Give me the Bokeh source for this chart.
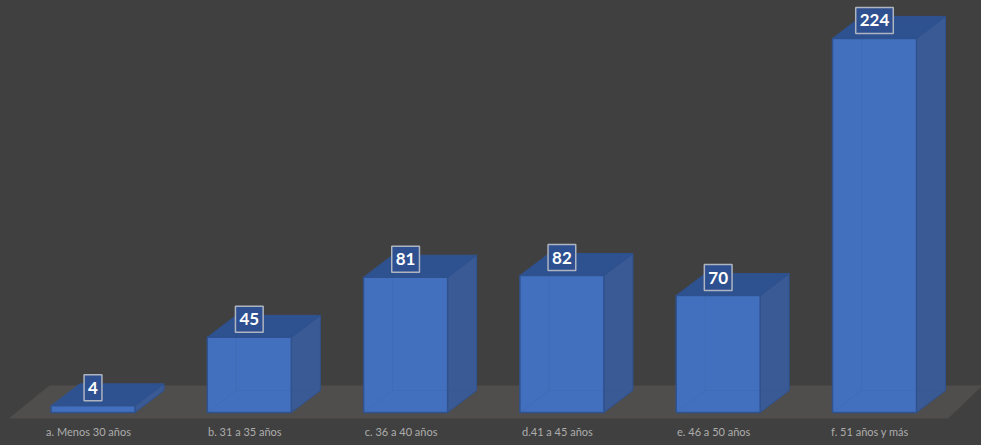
from bokeh.plotting import figure, ColumnDataSource
from bokeh.embed import file_html
from bokeh.resources import INLINE
from bokeh.models import FixedTicker
from bokeh.core.properties import value
import numpy as np

categories = ["a. Menos 30 años", "b. 31 a 35 años", "c. 36 a 40 años",
              "d.41 a 45 años", "e. 46 a 50 años", "f. 51 años y más"]
values = [4, 45, 81, 82, 70, 224]

W, H, AXIS_H = 981, 445, 24
PX_X, PX_Y = 156.3, 1.67
BAR_SHIFT, BAR_W = 4.5 / PX_X, 84 / PX_X
DX, DY = 29 / PX_X, 22 / PX_Y

BG = "#404040"
FRONT, TOP, SIDE, EDGE = "#4370BE", "#2E5190", "#395A94", "#2F528F"

p = figure(width=W, height=H, output_backend="svg", toolbar_location=None,
           x_range=(-88 / PX_X, (W - 88) / PX_X),
           y_range=(-9 / PX_Y, 412 / PX_Y),
           background_fill_color=BG, border_fill_color=BG,
           min_border=0, min_border_left=0, min_border_right=0,
           min_border_top=0, min_border_bottom=AXIS_H, outline_line_color=None)
p.grid.visible = False
p.yaxis.visible = False

ax = p.xaxis[0]
ax.ticker = FixedTicker(ticks=list(range(len(categories))))
ax.major_label_overrides = {i: c for i, c in enumerate(categories)}
ax.axis_line_color = None
ax.major_tick_line_color = None
ax.minor_tick_line_color = None
ax.major_tick_out = 0
ax.major_tick_in = 0
ax.minor_tick_out = 0
ax.major_label_text_color = "#adadad"
ax.major_label_text_font = "Lato"
ax.major_label_text_font_size = "11px"
ax.major_label_standoff = 3

n = len(values)
v = np.array(values, dtype=float)
xl = np.arange(n) + BAR_SHIFT - BAR_W / 2
xr = xl + BAR_W

# floor
fl = -0.5 - 0.02
floor_x = [fl + 0.01, fl + DX * 1.4 + 0.01, n - 1 + 0.72, n - 1 + 0.50]
floor_y = [-6 / PX_Y, 27 / PX_Y, 27 / PX_Y, -6 / PX_Y]
p.patch(floor_x, floor_y, fill_color="#504e4c", line_color=None)

# faces
front_x = [[a, b, b, a] for a, b in zip(xl, xr)]
front_y = [[0, 0, t, t] for t in v]
side_x = [[b, b + DX, b + DX, b] for b in xr]
side_y = [[0, DY, t + DY, t] for t in v]
top_x = [[a, b, b + DX, a + DX] for a, b in zip(xl, xr)]
top_y = [[t, t, t + DY, t + DY] for t in v]

p.patches(side_x, side_y, fill_color=SIDE, line_color=EDGE, line_width=1)
p.patches(top_x, top_y, fill_color=TOP, line_color=EDGE, line_width=1)
p.patches(front_x, front_y, fill_color=FRONT, line_color=EDGE, line_width=1.5)

# hidden back edges seen through the translucent faces
hid_x = [[a, a + DX, a + DX] for a in xl] + [[a + DX, b + DX] for a, b in zip(xl, xr)]
hid_y = [[0, DY, t + DY] for t in v] + [[DY, DY] for t in v]
p.multi_line(hid_x, hid_y, line_color=EDGE, line_alpha=0.15, line_width=1)

# value labels
src = ColumnDataSource(dict(x=xl + BAR_W / 2, y=v, t=[str(k) for k in values]))
p.text("x", "y", text="t", source=src, x_offset=0, y_offset=-18, text_align="center",
       text_baseline="middle", text_color="#ffffff",
       text_font=value("Lato"), text_font_style="bold", text_font_size="17px",
       background_fill_color="#2F5090", border_line_color="#aeb4c0",
       border_line_width=1.5, padding=(4, 7))

html = file_html(p, INLINE)
html = html.replace("<head>", "<head><style>html,body{margin:0;padding:0;background:#404040;overflow:hidden}</style>", 1)
open("out.html", "w").write(html)
